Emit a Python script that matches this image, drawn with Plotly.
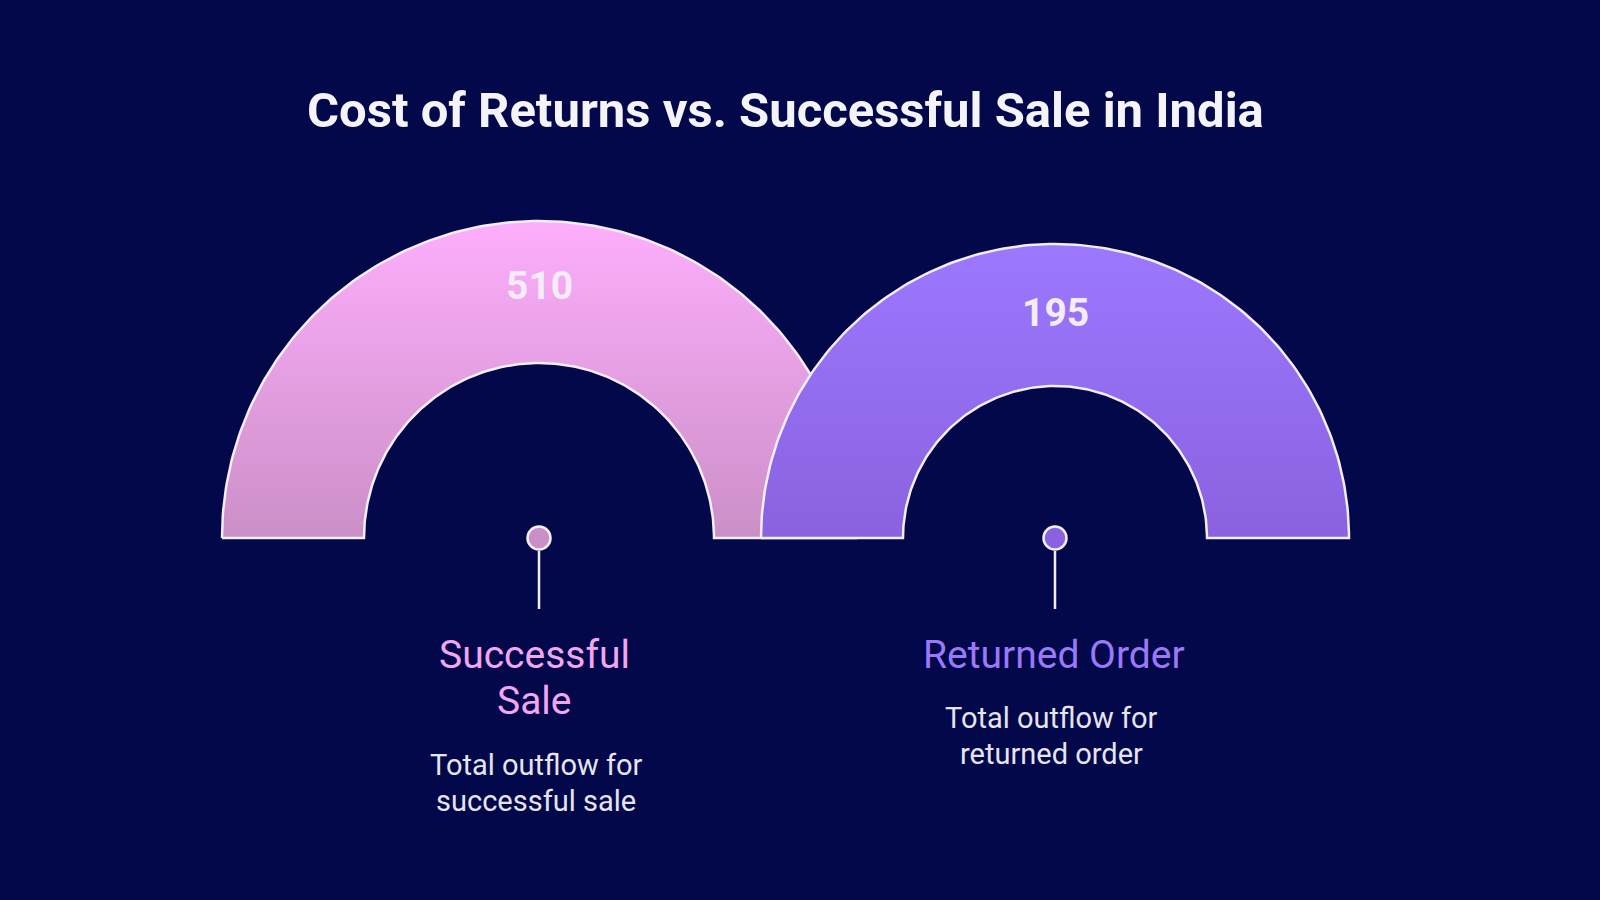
import numpy as np
import plotly.graph_objects as go

# ---- data ----
categories = ["Successful Sale", "Returned Order"]
values = [510, 195]
label_lines = [["Successful", "Sale"], ["Returned Order"]]
description_lines = [["Total outflow for", "successful sale"], ["Total outflow for", "returned order"]]
title_text = "Cost of Returns vs. Successful Sale in India"

# ---- style / layout (pixel space, y downward) ----
BG = "#02084a"
centers_x = [539, 1055]
base_y = 538
outer_r = [317, 294]
inner_r = [175, 152]
top_colors = ["#fdaefc", "#9c78fe"]
bottom_colors = ["#cb8fc7", "#8a62e0"]
label_colors = ["#f3a6f0", "#9a78f6"]
label_x = [534, 1054]
desc_x = [536, 1051]
label_y0 = [655, 655]
desc_y0 = [765, 718]
label_step = 46
desc_step = 35.5
value_y = [286, 313]

fig = go.Figure()

for i, cat in enumerate(categories):
    cx, R, r = centers_x[i], outer_r[i], inner_r[i]
    th = np.linspace(np.pi, 0, 181)
    xo = cx + R * np.cos(th)
    yo = base_y - R * np.sin(th)
    xi = cx + r * np.cos(th[::-1])
    yi = base_y - r * np.sin(th[::-1])
    xs = np.concatenate([xo, xi, [xo[0]]])
    ys = np.concatenate([yo, yi, [yo[0]]])
    fig.add_trace(go.Scatter(
        x=xs, y=ys, mode="lines", fill="toself",
        line=dict(color="#f2eef6", width=2.5),
        fillgradient=dict(type="vertical", start=base_y - R, stop=base_y,
                          colorscale=[[0, top_colors[i]], [1, bottom_colors[i]]]),
        hoverinfo="skip", showlegend=False,
    ))
    fig.add_annotation(x=cx, y=value_y[i], text=f"<b>{values[i]}</b>", showarrow=False,
                       font=dict(family="Roboto", size=39, color="#f4ecf6"),
                       xanchor="center", yanchor="middle")

for i, cat in enumerate(categories):
    cx = centers_x[i]
    fig.add_trace(go.Scatter(x=[cx, cx], y=[551, 609], mode="lines",
                             line=dict(color="#f2eef6", width=2.5),
                             hoverinfo="skip", showlegend=False))
    fig.add_trace(go.Scatter(x=[cx], y=[base_y], mode="markers",
                             marker=dict(size=23, color=bottom_colors[i],
                                         line=dict(color="#f2eef6", width=2.5)),
                             hoverinfo="skip", showlegend=False))
    for k, line in enumerate(label_lines[i]):
        fig.add_annotation(x=label_x[i], y=label_y0[i] + k * label_step, text=line, showarrow=False,
                           font=dict(family="Roboto", size=39, color=label_colors[i]),
                           xanchor="center", yanchor="middle")
    for k, line in enumerate(description_lines[i]):
        fig.add_annotation(x=desc_x[i], y=desc_y0[i] + k * desc_step, text=line, showarrow=False,
                           font=dict(family="Roboto", size=29, color="#e6e4ee"),
                           xanchor="center", yanchor="middle")

fig.add_annotation(x=785, y=110, text=f"<b>{title_text}</b>", showarrow=False,
                   font=dict(family="Roboto", size=49, color="#f4f4f8"),
                   xanchor="center", yanchor="middle")

fig.update_layout(
    width=1600, height=900,
    margin=dict(l=0, r=0, t=0, b=0),
    paper_bgcolor=BG, plot_bgcolor=BG,
    xaxis=dict(range=[0, 1600], visible=False, fixedrange=True),
    yaxis=dict(range=[900, 0], visible=False, fixedrange=True),
    showlegend=False,
)

fig.write_html("out.html")
